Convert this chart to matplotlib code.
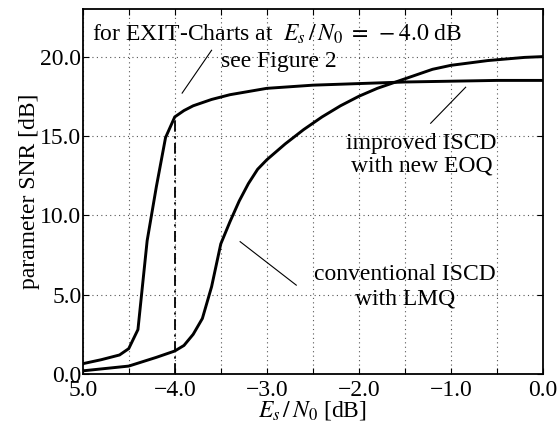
import matplotlib
matplotlib.use("Agg")
import matplotlib.pyplot as plt
from matplotlib.ticker import MultipleLocator, FixedLocator, FixedFormatter

plt.rcParams['font.family'] = ['Liberation Serif', 'DejaVu Serif']
plt.rcParams['mathtext.fontset'] = 'stix'

# improved ISCD with new EOQ
x_improved = [-5.0, -4.8, -4.6, -4.5, -4.4, -4.3, -4.2, -4.1, -4.0, -3.9, -3.8,
              -3.6, -3.4, -3.2, -3.0, -2.5, -2.0, -1.5, -1.0, -0.5, 0.0]
y_improved = [0.65, 0.9, 1.2, 1.6, 2.8, 8.4, 11.8, 14.9, 16.2, 16.6, 16.9,
              17.3, 17.6, 17.8, 18.0, 18.2, 18.3, 18.4, 18.45, 18.5, 18.5]

# conventional ISCD with LMQ
x_conv = [-5.0, -4.5, -4.2, -4.0, -3.9, -3.8, -3.7, -3.6, -3.5, -3.4, -3.3, -3.2,
          -3.1, -3.0, -2.8, -2.6, -2.4, -2.2, -2.0, -1.8, -1.6, -1.4, -1.2, -1.0,
          -0.8, -0.6, -0.4, -0.2, 0.0]
y_conv = [0.2, 0.5, 1.05, 1.45, 1.8, 2.5, 3.5, 5.5, 8.2, 9.6, 10.9, 12.0,
          12.9, 13.5, 14.5, 15.4, 16.2, 16.9, 17.5, 18.0, 18.4, 18.8, 19.2, 19.45,
          19.6, 19.75, 19.85, 19.95, 20.0]

x_tick_values = [-5.0, -4.0, -3.0, -2.0, -1.0, 0.0]
x_tick_labels = ["5.0", "\u22124.0", "\u22123.0", "\u22122.0", "\u22121.0", "0.0"]
y_tick_values = [0.0, 5.0, 10.0, 15.0, 20.0]
y_tick_labels = ["0.0", "5.0", "10.0", "15.0", "20.0"]

exit_x = -4.0

fs = 17
fig = plt.figure(figsize=(5.6, 4.22), dpi=100)
ax = fig.add_axes([0.1477, 0.1137, 0.9696 - 0.1477, 0.9787 - 0.1137])

ax.plot(x_improved, y_improved, color='black', lw=2.1, solid_joinstyle='miter')
ax.plot(x_conv, y_conv, color='black', lw=2.1, solid_joinstyle='miter')

# dash-dot line at the EXIT chart SNR, up to the improved curve
y_at = y_improved[x_improved.index(exit_x)]
ax.plot([exit_x, exit_x], [0, y_at], color='black', lw=1.3, linestyle=(0, (6, 2.5, 1.2, 2.5)))

ax.set_xlim(-5.0, 0.0)
ax.set_ylim(0.0, 23.0)

ax.xaxis.set_major_locator(FixedLocator(x_tick_values))
ax.xaxis.set_major_formatter(FixedFormatter(x_tick_labels))
ax.xaxis.set_minor_locator(MultipleLocator(0.5))
ax.yaxis.set_major_locator(FixedLocator(y_tick_values))
ax.yaxis.set_major_formatter(FixedFormatter(y_tick_labels))

ax.grid(True, which='both', axis='x', linestyle=(0, (1, 3)), color='#555555', lw=0.8)
ax.grid(True, which='major', axis='y', linestyle=(0, (1, 3)), color='#555555', lw=0.8)

ax.tick_params(which='both', direction='in', top=True, right=True, length=4, width=0.8)
ax.tick_params(axis='x', which='major', labelsize=fs, pad=4)
ax.tick_params(axis='y', which='major', labelsize=fs, pad=1)
for s in ax.spines.values():
    s.set_linewidth(1.3)

ax.set_xlabel("$E_s\\,/\\,N_0$ [dB]", fontsize=fs, labelpad=-1)
ax.set_ylabel("parameter SNR [dB]", fontsize=fs, labelpad=0)

ax.text(-4.9, 21.4, "for EXIT-Charts at  $E_s\\,/\\,N_0\\;=\\;-4.0$ dB", fontsize=fs,
        ha='left', va='center')
ax.text(-3.50, 19.7, "see Figure 2", fontsize=fs, ha='left', va='center')
ax.plot([-3.92, -3.60], [17.7, 20.4], color='black', lw=0.8)

ax.text(-1.32, 13.8, "improved ISCD\nwith new EOQ", fontsize=fs, ha='center', va='center',
        linespacing=1.1)
ax.plot([-1.22, -0.84], [15.8, 18.07], color='black', lw=0.8)

ax.text(-1.50, 5.5, "conventional ISCD\nwith LMQ", fontsize=fs, ha='center', va='center',
        linespacing=1.2)
ax.plot([-3.29, -2.68], [8.34, 5.6], color='black', lw=0.8)

fig.savefig("out.png", dpi=100)
